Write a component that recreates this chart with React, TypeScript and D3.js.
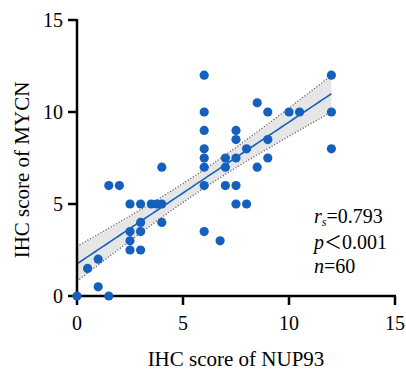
import * as d3 from "d3";

// NUP93 vs MYCN IHC scores
const nup93 = [
  0, 1.5, 1, 0.5, 1, 1.5, 2, 2.5, 3, 3.5, 3.75, 4, 3, 4, 2.5, 3, 2.5, 2.5, 3, 4,
  6, 6, 6, 6, 6, 6, 6, 6, 6.75, 7, 7, 7, 7.5, 7.5, 7.5, 7.5, 7.5, 8, 8, 8.5, 9,
  9, 9, 8.5, 12, 12, 12, 10, 10.5,
];
const mycn = [
  0, 0, 0.5, 1.5, 2, 6, 6, 5, 5, 5, 5, 5, 4, 4, 3.5, 3.5, 3, 2.5, 2.5, 7, 12, 10,
  9, 8, 7.5, 7, 6, 3.5, 3, 7.5, 7, 6, 9, 8.5, 7.5, 6, 5, 5, 8, 10.5, 10, 8.5,
  7.5, 7, 12, 10, 8, 10, 10,
];
const xTicks = [0, 5, 10, 15];
const yTicks = [0, 5, 10, 15];

// fitted line and 95% band as shown
const fitIntercept = 1.75;
const fitSlope = 0.77;
const fitXRange = [0, 12];
const bandMin = 0.5; // half width at the centre
const bandCentre = 5.8;
const bandSpread = 0.0193;

const statLines = ["0.793", "0.001", "60"];

export default function App() {
  const width = 406,
    height = 371;
  const margin = { left: 77, top: 20, right: 11, bottom: 75 };

  const x = d3.scaleLinear().domain([0, 15]).range([margin.left, width - margin.right]);
  const y = d3.scaleLinear().domain([0, 15]).range([height - margin.bottom, margin.top]);

  const fit = (v: number) => fitIntercept + fitSlope * v;
  const half = (v: number) => Math.sqrt(bandMin * bandMin + bandSpread * (v - bandCentre) ** 2);
  const xs = d3.range(fitXRange[0], fitXRange[1] + 0.001, 0.2);

  const area = d3
    .area<number>()
    .x((v) => x(v))
    .y0((v) => y(fit(v) - half(v)))
    .y1((v) => y(fit(v) + half(v)));
  const upper = d3.line<number>().x((v) => x(v)).y((v) => y(fit(v) + half(v)));
  const lower = d3.line<number>().x((v) => x(v)).y((v) => y(fit(v) - half(v)));
  const mid = d3.line<number>().x((v) => x(v)).y((v) => y(fit(v)));

  const points = nup93.map((v, i) => [v, mycn[i]]);
  const font = "'Liberation Serif', 'Times New Roman', Times, serif";
  const blue = "#1560bd";
  const y0 = y(0);

  return (
    <svg
      width={width}
      height={height}
      style={{ position: "absolute", left: 0, top: 0, background: "#fff", fontFamily: font }}
    >
      <path d={area(xs) || ""} fill="#e6e6e6" />
      <path d={upper(xs) || ""} fill="none" stroke="#555" strokeWidth={1.3} strokeDasharray="1,2" />
      <path d={lower(xs) || ""} fill="none" stroke="#555" strokeWidth={1.3} strokeDasharray="1,2" />
      <path d={mid(xs) || ""} fill="none" stroke={blue} strokeWidth={1.6} />

      {/* axes */}
      <line x1={x(0)} x2={x(0)} y1={y(15) - 1} y2={y0 + 1.25} stroke="#000" strokeWidth={2.5} />
      <line x1={x(0) - 1.25} x2={x(15) + 1} y1={y0} y2={y0} stroke="#000" strokeWidth={2.5} />
      {yTicks.map((t) => (
        <g key={"y" + t}>
          <line x1={x(0) - 9} x2={x(0)} y1={y(t)} y2={y(t)} stroke="#000" strokeWidth={2.5} />
          <text x={x(0) - 14} y={y(t)} dy="0.35em" textAnchor="end" fontSize={20}>
            {t}
          </text>
        </g>
      ))}
      {xTicks.map((t) => (
        <g key={"x" + t}>
          <line x1={x(t)} x2={x(t)} y1={y0} y2={y0 + 9} stroke="#000" strokeWidth={2.5} />
          <text x={x(t)} y={y0 + 34} textAnchor="middle" fontSize={20}>
            {t}
          </text>
        </g>
      ))}

      {points.map((p, i) => (
        <circle key={i} cx={x(p[0])} cy={y(p[1])} r={4.6} fill={blue} />
      ))}

      <text x={(x(0) + x(15)) / 2} y={366} textAnchor="middle" fontSize={21}>
        IHC score of NUP93
      </text>
      <text
        transform={`translate(29, ${(y(0) + y(15)) / 2 + 12}) rotate(-90)`}
        textAnchor="middle"
        fontSize={21}
      >
        IHC score of MYCN
      </text>

      <g fontSize={20}>
        <text x={314} y={223}>
          <tspan fontStyle="italic">r</tspan>
          <tspan fontStyle="italic" fontSize={12} dy={3}>s</tspan>
          <tspan dy={-3}>={statLines[0]}</tspan>
        </text>
        <text x={314} y={249}>
          <tspan fontStyle="italic">p</tspan>
          <tspan style={{ fontFamily: "'Noto Sans CJK SC'" }} fontSize={18}>＜</tspan>
          <tspan>{statLines[1]}</tspan>
        </text>
        <text x={314} y={273}>
          <tspan fontStyle="italic">n</tspan>={statLines[2]}
        </text>
      </g>
    </svg>
  );
}
